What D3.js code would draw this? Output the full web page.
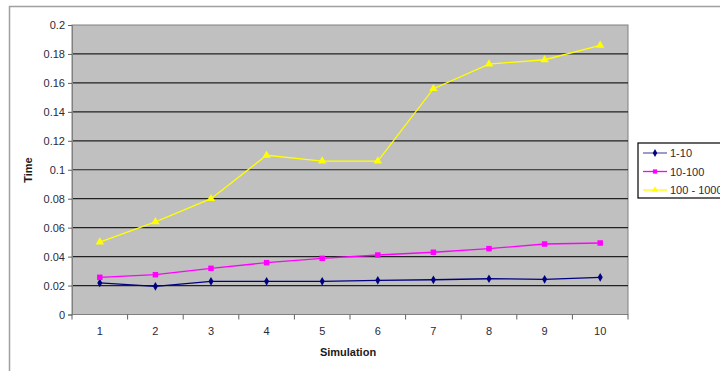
<!DOCTYPE html>
<html>
<head>
<meta charset="utf-8">
<script src="https://cdn.jsdelivr.net/npm/d3@7"></script>
<style>
  html, body { margin: 0; padding: 0; background: #fff; }
  svg { display: block; }
  text { font-family: "Liberation Sans", Arial, sans-serif; }
</style>
</head>
<body>
<svg id="chart" width="720" height="371"></svg>
<script>
// Simulation runs on the x axis
const simulations = [1, 2, 3, 4, 5, 6, 7, 8, 9, 10];

// Time per run for each size range
const range1to10 = [0.0218, 0.0195, 0.0229, 0.0229, 0.0229, 0.0236, 0.024, 0.0247, 0.0243, 0.0257];
const range10to100 = [0.0257, 0.0275, 0.0319, 0.0358, 0.0388, 0.0411, 0.043, 0.0455, 0.0487, 0.0494];
const range100to1000 = [0.050, 0.064, 0.080, 0.110, 0.106, 0.106, 0.156, 0.173, 0.176, 0.186];

const seriesNames = ["1-10", "10-100", "100 - 1000"];
const yTicks = [0, 0.02, 0.04, 0.06, 0.08, 0.1, 0.12, 0.14, 0.16, 0.18, 0.2];

const series = [
  { name: seriesNames[0], values: range1to10, color: "#000080", marker: "diamond" },
  { name: seriesNames[1], values: range10to100, color: "#ff00ff", marker: "square" },
  { name: seriesNames[2], values: range100to1000, color: "#ffff00", marker: "triangle" }
];

const svg = d3.select("#chart");

// Outer chart frame
svg.append("path")
  .attr("d", "M9.5,371 V6.5 H720")
  .attr("fill", "none")
  .attr("stroke", "#a0a0a0")
  .attr("stroke-width", 1.5);

const plot = { left: 72, right: 628, top: 25, bottom: 314.5 };

const x = d3.scaleBand().domain(simulations).range([plot.left, plot.right]);
const y = d3.scaleLinear().domain([0, 0.2]).range([plot.bottom, plot.top]);

// Plot background
svg.append("rect")
  .attr("x", plot.left).attr("y", plot.top)
  .attr("width", plot.right - plot.left)
  .attr("height", plot.bottom - plot.top)
  .attr("fill", "#c0c0c0")
  .attr("stroke", "#808080")
  .attr("stroke-width", 1);

// Horizontal gridlines
svg.append("g")
  .selectAll("line")
  .data(yTicks.filter(t => t > 0 && t < 0.2))
  .join("line")
  .attr("x1", plot.left).attr("x2", plot.right)
  .attr("y1", d => y(d)).attr("y2", d => y(d))
  .attr("stroke", "#222")
  .attr("stroke-width", 1.2);

// Y axis
const yAxis = d3.axisLeft(y).tickValues(yTicks).tickSize(4).tickPadding(3)
  .tickFormat(d => d === 0 ? "0" : String(+d.toFixed(2)));
const gy = svg.append("g").attr("transform", `translate(${plot.left},0)`).call(yAxis);
gy.select(".domain").attr("stroke", "#808080");
gy.selectAll(".tick line").attr("stroke", "#606060");
gy.selectAll(".tick text").attr("font-size", 11).attr("fill", "#2a2a3a")
  .attr("font-family", "'Liberation Sans', Arial, sans-serif");

// X axis: ticks on category boundaries, labels at category centres
const gx = svg.append("g").attr("transform", `translate(0,${plot.bottom})`);
gx.append("line")
  .attr("x1", plot.left).attr("x2", plot.right)
  .attr("stroke", "#808080");
const boundaries = simulations.map(s => x(s)).concat([x(simulations[simulations.length - 1]) + x.bandwidth()]);
gx.selectAll(".bt").data(boundaries).join("line")
  .attr("class", "bt")
  .attr("x1", d => d).attr("x2", d => d)
  .attr("y1", 0).attr("y2", 5)
  .attr("stroke", "#606060");
gx.selectAll(".lbl").data(simulations).join("text")
  .attr("class", "lbl")
  .attr("x", d => x(d) + x.bandwidth() / 2)
  .attr("y", 20)
  .attr("text-anchor", "middle")
  .attr("font-size", 11)
  .attr("fill", "#2a2a3a")
  .text(d => d);

// Axis titles
svg.append("text")
  .attr("x", (plot.left + plot.right) / 2 - 2)
  .attr("y", 356)
  .attr("text-anchor", "middle")
  .attr("font-size", 11)
  .attr("font-weight", "bold")
  .attr("fill", "#1a1a1a")
  .text("Simulation");

svg.append("text")
  .attr("transform", "translate(32,170) rotate(-90)")
  .attr("text-anchor", "middle")
  .attr("font-size", 11)
  .attr("font-weight", "bold")
  .attr("fill", "#1a1a1a")
  .text("Time");

// Marker shapes
const symbolFor = {
  diamond: d3.symbol().type(d3.symbolDiamond).size(22),
  square: d3.symbol().type(d3.symbolSquare).size(30),
  triangle: d3.symbol().type(d3.symbolTriangle).size(30)
};

const cx = s => x(s) + x.bandwidth() / 2;

const line = d3.line()
  .x((d, i) => cx(simulations[i]))
  .y(d => y(d));

series.forEach(s => {
  svg.append("path")
    .attr("d", line(s.values))
    .attr("fill", "none")
    .attr("stroke", s.color)
    .attr("stroke-width", 1.3);
  svg.append("g").selectAll("path")
    .data(s.values)
    .join("path")
    .attr("transform", (d, i) => `translate(${cx(simulations[i])},${y(d)})`)
    .attr("d", symbolFor[s.marker]())
    .attr("fill", s.color);
});

// Legend
const legend = svg.append("g");
legend.append("rect")
  .attr("x", 638).attr("y", 143)
  .attr("width", 100).attr("height", 55)
  .attr("fill", "#fff")
  .attr("stroke", "#000")
  .attr("stroke-width", 1.2);

const legendRow = d3.scalePoint().domain(seriesNames).range([153, 190]);
series.forEach(s => {
  const ly = legendRow(s.name);
  legend.append("line")
    .attr("x1", 643).attr("x2", 667)
    .attr("y1", ly).attr("y2", ly)
    .attr("stroke", s.color === "#000080" ? "#6666aa" : s.color)
    .attr("stroke-width", 1.3);
  legend.append("path")
    .attr("transform", `translate(655,${ly})`)
    .attr("d", d3.symbol().type(
      s.marker === "diamond" ? d3.symbolDiamond :
      s.marker === "square" ? d3.symbolSquare : d3.symbolTriangle).size(18)())
    .attr("fill", s.color);
  legend.append("text")
    .attr("x", 670).attr("y", ly + 4)
    .attr("font-size", 11)
    .attr("fill", "#2a2a3a")
    .text(s.name);
});
</script>
</body>
</html>
